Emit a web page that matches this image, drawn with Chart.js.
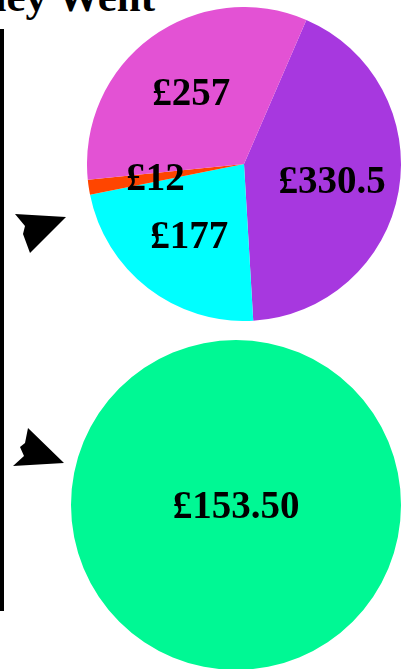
<!DOCTYPE html>
<html>
<head>
<meta charset="utf-8">
<script src="https://cdn.jsdelivr.net/npm/chart.js@4"></script>
<style>
  html, body { margin: 0; padding: 0; width: 409px; height: 669px; overflow: hidden; background: #fff; }
  .title {
    position: absolute; right: 254px; top: -25px; white-space: nowrap;
    font: bold 43px "Liberation Serif", "Times New Roman", serif; line-height: 43px; color: #000;
  }
  .rule { position: absolute; left: 0; top: 29px; width: 4px; height: 582px; background: #000; }
  .pie { position: absolute; }
  #pieTop { left: 87px; top: 7px; width: 314px; height: 314px; }
  #pieBottom { left: 71px; top: 340px; width: 330px; height: 330px; }
  svg.arrows { position: absolute; left: 0; top: 0; }
</style>
</head>
<body>
<div class="title">Where the Money Went</div>
<div class="rule"></div>
<svg class="arrows" width="409" height="669">
  <polygon points="15,214 66,217 30,253 23,234 25,226" fill="#000"/>
  <polygon points="28,428 64,463 13,466 24,456 20,447 25,443" fill="#000"/>
</svg>
<div class="pie" id="pieTop"><canvas id="c1"></canvas></div>
<div class="pie" id="pieBottom"><canvas id="c2"></canvas></div>

<script>
// data
const topCategories = ['Rent', 'Bills', 'Fees', 'Food'];
const topValues     = [330.5, 177, 12, 257];
const topColours    = ['#A738DF', '#00FFFF', '#FF4500', '#E352D4'];

const bottomCategories = ['Savings'];
const bottomValues     = [153.50];
const bottomColours    = ['#00F894'];

// draws £ labels on each slice
const sliceLabels = {
  id: 'sliceLabels',
  afterDatasetsDraw(chart, args, opts) {
    const { ctx } = chart;
    const meta = chart.getDatasetMeta(0);
    const vals = chart.data.datasets[0].data;
    ctx.save();
    ctx.font = 'bold 39px "Liberation Serif", "Times New Roman", serif';
    ctx.fillStyle = '#000';
    ctx.textAlign = 'center';
    ctx.textBaseline = 'middle';
    meta.data.forEach((arc, i) => {
      const p = arc.getProps(['x', 'y', 'startAngle', 'endAngle', 'outerRadius']);
      let x = p.x, y = p.y;
      if (meta.data.length > 1) {
        const mid = (p.startAngle + p.endAngle) / 2;
        const r = p.outerRadius * 0.57;
        x += Math.cos(mid) * r;
        y += Math.sin(mid) * r;
      }
      const txt = '£' + (opts.decimals ? vals[i].toFixed(opts.decimals) : String(vals[i]));
      ctx.fillText(txt, x, y + 3);
    });
    ctx.restore();
  }
};

function makePie(id, labels, values, colours, rotation, decimals) {
  return new Chart(document.getElementById(id).getContext('2d'), {
    type: 'pie',
    data: {
      labels,
      datasets: [{ data: values, backgroundColor: colours, borderWidth: 0 }],
    },
    options: {
      responsive: true, maintainAspectRatio: false, animation: false,
      rotation,
      layout: { padding: 0 },
      plugins: {
        legend: { display: false },
        tooltip: { enabled: false },
        sliceLabels: { decimals },
      },
    },
    plugins: [sliceLabels],
  });
}

makePie('c1', topCategories, topValues, topColours, 23.4, 0);
makePie('c2', bottomCategories, bottomValues, bottomColours, 0, 2);
</script>
</body>
</html>
